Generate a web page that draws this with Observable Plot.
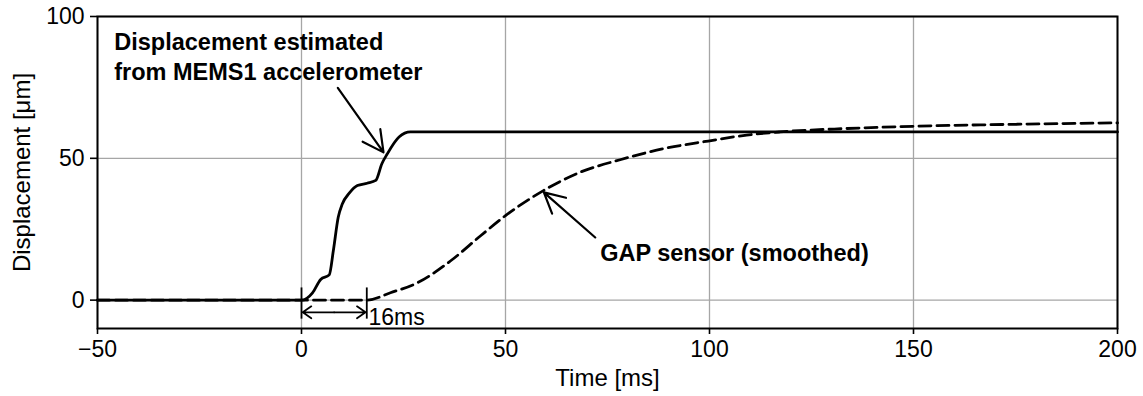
<!DOCTYPE html>
<html>
<head>
<meta charset="utf-8">
<script src="https://cdn.jsdelivr.net/npm/d3@7"></script>
<script src="https://cdn.jsdelivr.net/npm/@observablehq/plot@0.6"></script>
<style>
  html, body { margin: 0; padding: 0; background: #fff; }
  #chart { width: 1143px; height: 396px; }
</style>
</head>
<body>
<div id="chart"></div>
<script>
// ---- data ----
const memsTime = [-50, 0, 2.7, 4.7, 6.8, 7.8, 9.0, 10.0, 11.7, 13.7, 16.1, 18.2, 19.7, 21.0, 23.9, 26.7, 200];
const memsDisp = [0, 0, 2.6, 7.3, 8.9, 17.4, 29.2, 33.9, 37.7, 40.4, 41.2, 42.2, 48.1, 51.5, 57.5, 59.3, 59.3];

const gapTime = [-50, 16, 21.8, 28.4, 36.5, 43.9, 50, 59.4, 68.3, 78.1, 88.7, 99.7, 109.1, 117.3, 133.6, 150, 175, 200];
const gapDisp = [0, 0, 2.6, 6.1, 13.8, 22.7, 29.8, 38.7, 45.1, 49.5, 53.4, 56.1, 58.2, 59.3, 60.5, 61.3, 62.0, 62.5];

const xTicks = [-50, 0, 50, 100, 150, 200];
const xTickLabels = ["−50", "0", "50", "100", "150", "200"];
const yTicks = [0, 50, 100];
const yTickLabels = ["0", "50", "100"];

// annotation labels
const labelText = ["Displacement estimated", "from MEMS1 accelerometer", "GAP sensor (smoothed)"];
const labelX = [-45.9, -45.9, 73.2];
const labelY = [88.3, 77.7, 13.8];

// annotation arrows (data coordinates)
const arrowX1 = [8.9, 72.0];
const arrowY1 = [74.8, 22.1];
const arrowX2 = [20.1, 59.4];
const arrowY2 = [52.1, 38.0];

// 16 ms delay marker
const delayStart = 0;
const delayEnd = 16;
const delayLabel = "16ms";

// ---- build tables ----
const mems = memsTime.map((t, i) => ({t, d: memsDisp[i]}));
const gap = gapTime.map((t, i) => ({t, d: gapDisp[i]}));
const labels = labelText.map((s, i) => ({s, x: labelX[i], y: labelY[i]}));
const arrows = arrowX1.map((x1, i) => ({x1, y1: arrowY1[i], x2: arrowX2[i], y2: arrowY2[i]}));
const delayMid = (delayStart + delayEnd) / 2;
const delayArrows = [
  {x1: delayMid, x2: delayStart + 0.3},
  {x1: delayMid, x2: delayEnd - 0.3}
];

const font = "'Liberation Sans', Arial, Helvetica, sans-serif";

const chart = Plot.plot({
  width: 1143,
  height: 396,
  marginLeft: 97,
  marginRight: 26,
  marginTop: 16,
  marginBottom: 68,
  style: {fontFamily: font, fontSize: "22px", background: "#fff", color: "#000", overflow: "visible"},
  x: {domain: [-50, 200]},
  y: {domain: [-10, 100]},
  marks: [
    Plot.ruleX(xTicks, {stroke: "#a6a6a6", strokeWidth: 1.3}),
    Plot.ruleY(yTicks, {stroke: "#a6a6a6", strokeWidth: 1.3}),
    Plot.frame({stroke: "#000", strokeWidth: 2}),
    Plot.axisX({ticks: xTicks, tickFormat: (d) => xTickLabels[xTicks.indexOf(d)], tickSize: 6, tickPadding: 6, fontSize: 23, label: null, stroke: "#000", strokeWidth: 1.6}),
    Plot.axisY({ticks: yTicks, tickFormat: (d) => yTickLabels[yTicks.indexOf(d)], tickSize: 7, tickPadding: 6, fontSize: 23, label: null, stroke: "#000", strokeWidth: 1.6}),
    Plot.line(gap, {x: "t", y: "d", stroke: "#000", strokeWidth: 2.8, strokeDasharray: "12,6", curve: "monotone-x"}),
    Plot.line(mems, {x: "t", y: "d", stroke: "#000", strokeWidth: 2.8, curve: "monotone-x"}),
    Plot.ruleX([delayStart, delayEnd], {y1: -6.7, y2: 4.3, stroke: "#000", strokeWidth: 1.8}),
    Plot.arrow(delayArrows, {x1: "x1", x2: "x2", y1: -4.3, y2: -4.3, stroke: "#000", strokeWidth: 1.8, headLength: 9, headAngle: 70}),
    Plot.text([delayLabel], {x: delayEnd + 0.4, y: -8.7, text: (d) => d, textAnchor: "start", lineAnchor: "bottom", fontSize: 23, fill: "#000"}),
    Plot.text(labels, {x: "x", y: "y", text: "s", textAnchor: "start", lineAnchor: "bottom", fontSize: 23.5, fontWeight: "bold", fill: "#000"}),
    Plot.arrow(arrows, {x1: "x1", y1: "y1", x2: "x2", y2: "y2", stroke: "#000", strokeWidth: 2.2, headLength: 16, headAngle: 55}),
    Plot.text(["Time [ms]"], {frameAnchor: "bottom", dy: 57, text: (d) => d, textAnchor: "middle", fontSize: 24, fill: "#000"}),
    Plot.text(["Displacement [μm]"], {frameAnchor: "left", dx: -75, rotate: -90, textAnchor: "middle", text: (d) => d, fontSize: 24, fill: "#000"})
  ]
});
document.getElementById("chart").appendChild(chart);
</script>
</body>
</html>
